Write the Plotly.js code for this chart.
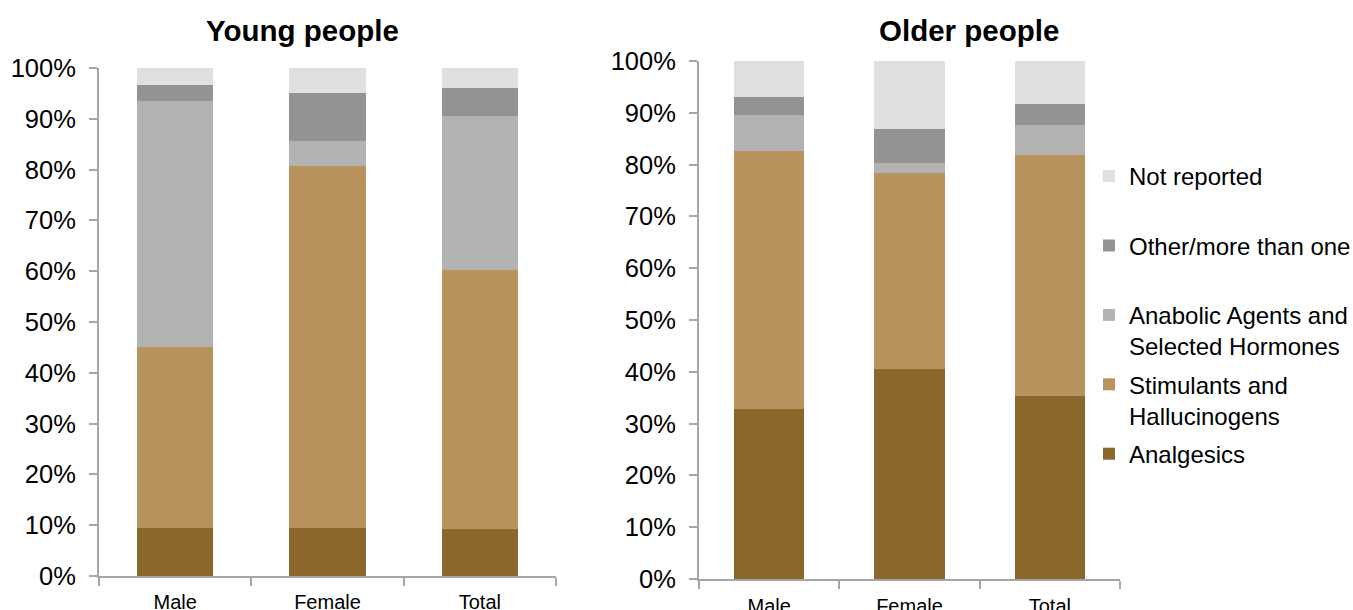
<!DOCTYPE html>
<html><head><meta charset="utf-8">
<script src="https://cdn.plot.ly/plotly-3.0.1.min.js"></script>
<style>html,body{margin:0;padding:0;background:#fff}#chart{width:1353px;height:610px}</style>
</head><body><div id="chart"></div>
<script>
var categories = ['Male', 'Female', 'Total'];
var seriesNames = ['Analgesics', 'Stimulants and<br>Hallucinogens', 'Anabolic Agents and<br>Selected Hormones', 'Other/more than one<br>&nbsp;', 'Not reported<br>&nbsp;'];
var young_analgesics   = [9.5, 9.5, 9.3];
var young_stimulants   = [35.6, 71.3, 51.0];
var young_anabolic     = [48.4, 4.9, 30.2];
var young_other        = [3.2, 9.4, 5.6];
var young_notreported  = [3.3, 4.9, 3.9];
var older_analgesics   = [32.9, 40.5, 35.4];
var older_stimulants   = [49.7, 37.8, 46.5];
var older_anabolic     = [7.0, 2.0, 5.7];
var older_other        = [3.4, 6.6, 4.1];
var older_notreported  = [7.0, 13.1, 8.3];
var yTickVals = [0, 10, 20, 30, 40, 50, 60, 70, 80, 90, 100];
var yTickText = ['0%', '10%', '20%', '30%', '40%', '50%', '60%', '70%', '80%', '90%', '100%'];
var titles = ['Young people', 'Older people'];

var colors = ['#8b672b', '#b9935d', '#b3b3b3', '#939393', '#e0e0e0'];
var youngSeries = [young_analgesics, young_stimulants, young_anabolic, young_other, young_notreported];
var olderSeries = [older_analgesics, older_stimulants, older_anabolic, older_other, older_notreported];

var FONT = 'Liberation Sans, Arial, sans-serif';
var traces = [];
for (var i = 0; i < seriesNames.length; i++) {
  traces.push({type: 'bar', x: categories, y: youngSeries[i], name: seriesNames[i],
    xaxis: 'x', yaxis: 'y', legendgroup: 'g' + i, legendrank: 100 - i, showlegend: true,
    marker: {color: colors[i], line: {width: 0}}, hoverinfo: 'skip'});
  traces.push({type: 'bar', x: categories, y: olderSeries[i], name: seriesNames[i],
    xaxis: 'x2', yaxis: 'y2', legendgroup: 'g' + i, showlegend: false,
    marker: {color: colors[i], line: {width: 0}}, hoverinfo: 'skip'});
}

function yaxis(domain, anchor) {
  return {domain: domain, anchor: anchor, range: [0, 100], tickmode: 'array', tickvals: yTickVals, ticktext: yTickText,
    showgrid: false, zeroline: false, showline: true, linecolor: '#a6a6a6', linewidth: 2,
    ticks: 'outside', ticklen: 8, tickwidth: 2, tickcolor: '#a6a6a6', ticklabelstandoff: 8,
    tickfont: {size: 25.5, color: '#000', family: FONT}, fixedrange: true, automargin: false};
}
function xaxis(domain, anchor, standoff) {
  return {domain: domain, anchor: anchor, type: 'category', tickson: 'boundaries',
    showgrid: false, zeroline: false, showline: true, linecolor: '#a6a6a6', linewidth: 2,
    ticks: 'outside', ticklen: 8, tickwidth: 2, tickcolor: '#a6a6a6', ticklabelstandoff: standoff,
    tickfont: {size: 20, color: '#000', family: FONT}, fixedrange: true, automargin: false};
}

var layout = {
  width: 1353, height: 610,
  margin: {l: 0, r: 0, t: 0, b: 0, autoexpand: false},
  paper_bgcolor: '#fff', plot_bgcolor: '#fff',
  font: {family: FONT, color: '#000'},
  barmode: 'stack', bargap: 0.5,
  xaxis: xaxis([99 / 1353, 556 / 1353], 'y', 7),
  yaxis: yaxis([1 - 576 / 610, 1 - 68 / 610], 'x'),
  xaxis2: xaxis([699 / 1353, 1120 / 1353], 'y2', 8),
  yaxis2: yaxis([1 - 579 / 610, 1 - 61 / 610], 'x2'),
  showlegend: true,
  legend: {x: 1089 / 1353, xanchor: 'left', y: 1 - 154 / 610, yanchor: 'top',
    traceorder: 'grouped', tracegroupgap: 4, valign: 'top',
    font: {size: 24, color: '#000', family: FONT}, bgcolor: 'rgba(0,0,0,0)'},
  annotations: [
    {text: '<b>' + titles[0] + '</b>', xref: 'paper', yref: 'paper', x: 302 / 1353, y: 1 - 30 / 610,
      xanchor: 'center', yanchor: 'middle', showarrow: false, font: {size: 29.5, family: FONT, color: '#000'}},
    {text: '<b>' + titles[1] + '</b>', xref: 'paper', yref: 'paper', x: 969 / 1353, y: 1 - 30 / 610,
      xanchor: 'center', yanchor: 'middle', showarrow: false, font: {size: 29.5, family: FONT, color: '#000'}}
  ]
};

Plotly.newPlot('chart', traces, layout, {displayModeBar: false, staticPlot: true});
</script></body></html>
